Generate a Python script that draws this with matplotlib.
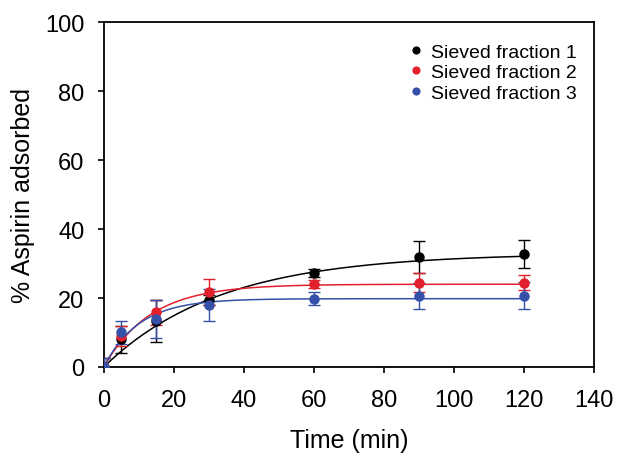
import matplotlib
matplotlib.use("Agg")
import matplotlib.pyplot as plt
import numpy as np

plt.rcParams['font.family'] = ['Liberation Sans', 'DejaVu Sans']

# Data
time = [0, 5, 15, 30, 60, 90, 120]
labels = ['Sieved fraction 1', 'Sieved fraction 2', 'Sieved fraction 3']
colors = ['#000000', '#e2202c', '#3550a8']

frac1 = [0, 8.0, 13.3, 19.5, 27.3, 31.8, 32.8]
frac2 = [0, 9.0, 15.8, 21.7, 24.0, 24.4, 24.4]
frac3 = [0, 10.0, 14.0, 18.0, 19.8, 20.5, 20.7]
err1 = [2.5, 4.0, 6.0, 1.5, 1.2, 4.6, 4.0]
err2 = [2.5, 3.0, 3.5, 3.8, 1.2, 2.8, 2.2]
err3 = [2.5, 3.2, 5.5, 4.7, 1.8, 3.8, 4.0]

# first-order fit parameters (plateau, rate constant) per fraction
fit_plateau = [33.0, 24.0, 19.8]
fit_rate = [0.030, 0.075, 0.10]

fig = plt.figure(figsize=(6.18, 4.64), dpi=100)
ax = fig.add_axes([0.168, 0.207, 0.793, 0.743])

tfit = np.linspace(0, 120, 300)
series = [frac1, frac2, frac3]
errs = [err1, err2, err3]
for y, e, c, lab, A, k in zip(series, errs, colors, labels, fit_plateau, fit_rate):
    ax.plot(tfit, A * (1 - np.exp(-k * tfit)), color=c, lw=1.1, zorder=2)
    ax.errorbar(time, y, yerr=e, fmt='o', color=c, ms=6.5, elinewidth=1.0,
                capsize=4, capthick=1.0, label=lab, zorder=3)

ax.set_xlim(0, 140)
ax.set_ylim(0, 100)
ax.set_xticks(range(0, 141, 20))
ax.set_yticks(range(0, 101, 20))
ax.tick_params(labelsize=17, direction='out', length=4, width=1.2)
ax.tick_params(axis='x', pad=12)
ax.tick_params(axis='y', pad=10)
for s in ax.spines.values():
    s.set_linewidth(1.3)
ax.set_xlabel('Time (min)', fontsize=18, labelpad=12)
ax.set_ylabel('% Aspirin adsorbed', fontsize=18, labelpad=7)

handles, labs = ax.get_legend_handles_labels()
handles = [h[0] for h in handles]
ax.legend(handles, labs, loc='upper right', bbox_to_anchor=(1.0, 0.99),
          frameon=False, fontsize=14, handlelength=0.5, handletextpad=0.5,
          labelspacing=0.15, markerscale=0.75)

fig.savefig("out.png", dpi=100)
